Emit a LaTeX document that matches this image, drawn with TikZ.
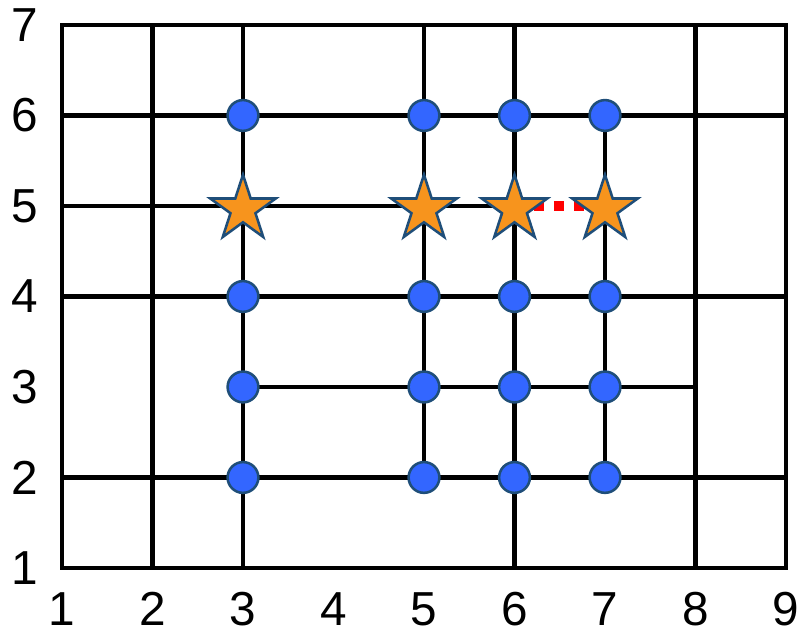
\documentclass[tikz,border=0pt]{standalone}
\usepackage{fontspec}
\setmainfont{Liberation Sans}
\usetikzlibrary{shapes.geometric,backgrounds}
\definecolor{SiteBlue}{HTML}{3366FF}
\definecolor{SiteEdge}{HTML}{1F4E79}
\definecolor{PickOrange}{HTML}{F7941D}
\definecolor{LinkRed}{HTML}{FF0000}

\begin{document}
\begin{tikzpicture}[x=1cm,y=1cm,
    gridline/.style={line width=1.5pt,color=black},
    site/.style={circle,draw=SiteEdge,line width=0.8pt,fill=SiteBlue,
      minimum size=0.34cm,inner sep=0pt},
    pick/.style={star,star points=5,star point ratio=2.618,draw=SiteEdge,
      line width=0.8pt,fill=PickOrange,minimum size=0.76cm,inner sep=0pt,
      yshift=-0.035cm},
    link/.style={line width=3.1pt,color=LinkRed,dash pattern=on 3.1pt off 3.1pt},
    axisnum/.style={font=\fontsize{15}{18}\selectfont,inner sep=0pt}
  ]
  \useasboundingbox (0.315,0.315) rectangle (9.188,7.276);
  % blue sites and orange stars
  \foreach \c in {3,5,6,7} {
    \foreach \r in {2,3,4,6}
      \node[site] (d\c\r) at (\c,\r) {};
    \coordinate (p\c) at (\c,5);
    \node[pick] (s\c) at (p\c) {};
  }
  % axis numbers
  \foreach \n in {1,...,9}
    \node[axisnum] (xl\n) at (\n,0.545) {\n};
  \foreach \n in {1,...,7}
    \node[axisnum] (yl\n) at (0.59,\n) {\n};
  \begin{pgfonlayer}{background}
    \draw[gridline] (1,1) rectangle (9,7);
    \foreach \x in {2,3,6,8}
      \draw[gridline] (\x,1) -- (\x,7);
    \draw[gridline] (5,2) -- (5,7);
    \draw[gridline] (7,2) -- (7,6);
    \foreach \y in {2,4,6}
      \draw[gridline] (1,\y) -- (9,\y);
    \draw[gridline] (1,5) -- (6,5);
    \draw[gridline] (3,3) -- (8,3);
    \draw[link] (p6) -- (p7);
  \end{pgfonlayer}
\end{tikzpicture}
\end{document}
